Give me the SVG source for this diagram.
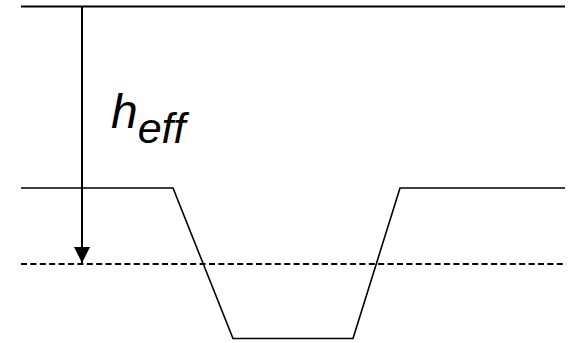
<svg xmlns="http://www.w3.org/2000/svg" width="572" height="343" viewBox="0 0 572 343">
<style>
.ln{fill:none;stroke:#000;stroke-width:1.6}
.lbl{font-family:"Liberation Sans",Arial,sans-serif;font-style:italic;fill:#000}
</style>
<defs>
<marker id="ah" markerUnits="userSpaceOnUse" markerWidth="16" markerHeight="16" viewBox="0 0 16 16" refX="16" refY="8" orient="auto">
<path d="M0,0 L16,8 L0,16 Z" fill="#000"/>
</marker>
</defs>
<g id="surface"><line x1="21" y1="6.5" x2="565" y2="6.5" stroke="#000" stroke-width="2.2"/></g>
<g id="bed"><polyline class="ln" points="21,188 173,188 233,338.5 353,338.5 400,188 565,188"/></g>
<g id="datum"><line x1="21" y1="264" x2="563" y2="264" stroke="#000" stroke-width="2" stroke-dasharray="6,3.4"/></g>
<g id="connectors"><line x1="82" y1="7" x2="82" y2="263" stroke="#000" stroke-width="2" marker-end="url(#ah)"/></g>
<g id="label"><text class="lbl" x="111" y="128" font-size="48">h<tspan font-size="43" dy="15">eff</tspan></text></g>
</svg>
